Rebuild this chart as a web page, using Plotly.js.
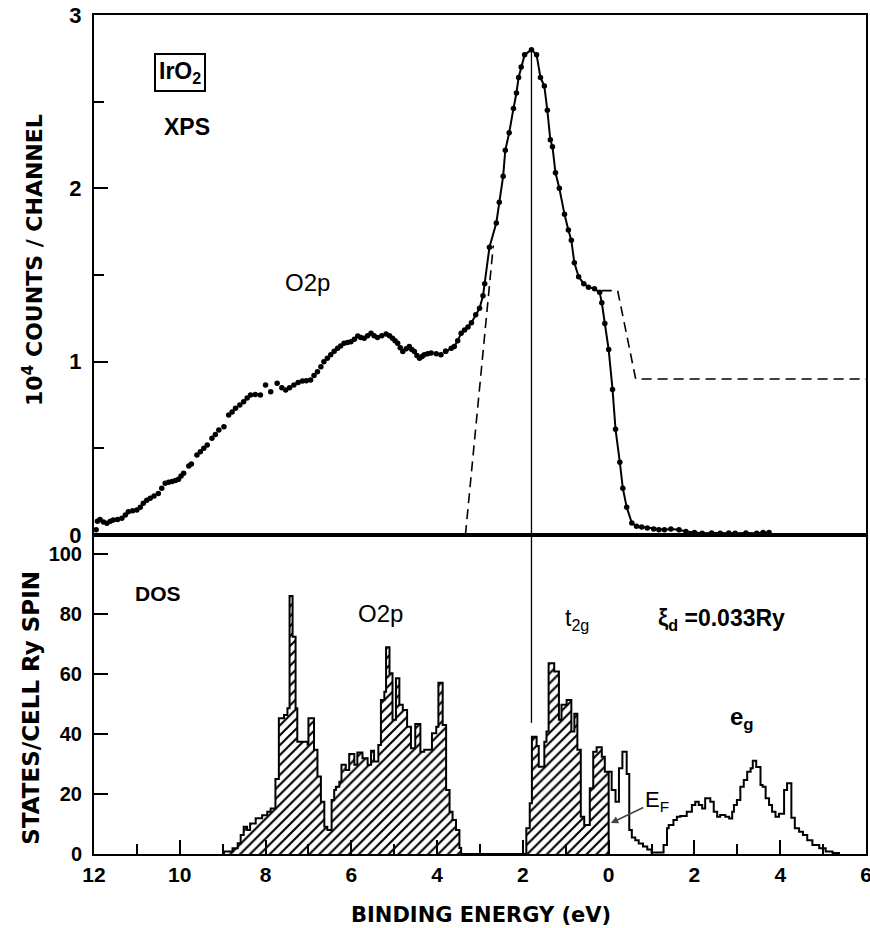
<!DOCTYPE html>
<html>
<head>
<meta charset="utf-8">
<script src="https://cdn.plot.ly/plotly-3.0.1.min.js"></script>
<style>html,body{margin:0;padding:0;background:#fff;}#chart{width:870px;height:928px;}</style>
</head>
<body>
<div id="chart"></div>
<script>
// ---------- XPS (upper panel) : binding energy (eV) vs 10^4 counts/channel ----------
const xpsDotE = [11.95,11.92,11.86,11.78,11.70,11.62,11.55,11.45,11.35,11.27,11.20,11.10,11.00,10.92,10.85,10.77,10.69,10.60,10.50,10.42,10.34,10.26,10.18,10.10,10.03,9.97,9.91,9.79,9.73,9.60,9.52,9.44,9.36,9.25,9.17,9.09,8.97,8.86,8.78,8.70,8.60,8.51,8.43,8.35,8.24,8.12,8.00,7.88,7.73,7.62,7.53,7.44,7.34,7.24,7.14,7.05,6.95,6.87,6.79,6.71,6.64,6.56,6.48,6.40,6.32,6.25,6.17,6.09,6.01,5.93,5.85,5.78,5.70,5.62,5.54,5.47,5.39,5.29,5.19,5.11,5.04,4.98,4.92,4.86,4.80,4.72,4.65,4.59,4.53,4.47,4.41,4.35,4.30,4.22,4.14,4.02,3.91,3.80];
const xpsDotC = [0.03,0.08,0.09,0.075,0.068,0.08,0.087,0.09,0.096,0.115,0.134,0.14,0.144,0.16,0.183,0.20,0.212,0.225,0.24,0.27,0.298,0.305,0.308,0.315,0.321,0.34,0.356,0.398,0.41,0.462,0.481,0.50,0.519,0.558,0.58,0.606,0.625,0.692,0.71,0.731,0.75,0.769,0.79,0.808,0.81,0.808,0.866,0.827,0.875,0.85,0.837,0.85,0.866,0.88,0.889,0.89,0.894,0.92,0.942,0.97,1.0,1.02,1.04,1.06,1.077,1.09,1.106,1.11,1.115,1.13,1.148,1.14,1.135,1.15,1.164,1.15,1.14,1.15,1.16,1.15,1.135,1.12,1.106,1.08,1.058,1.075,1.087,1.07,1.058,1.035,1.02,1.03,1.04,1.045,1.05,1.045,1.04,1.06];
const xpsCurveE = [3.80,3.67,3.60,3.52,3.44,3.36,3.28,3.20,3.10,3.01,2.93,2.89,2.78,2.62,2.55,2.46,2.41,2.32,2.22,2.15,2.10,2.04,1.96,1.80,1.68,1.59,1.50,1.43,1.36,1.31,1.24,1.15,1.03,0.94,0.87,0.80,0.70,0.58,0.47,0.33,0.21,0.16,0.09,0.00,-0.09,-0.16,-0.26,-0.33,-0.42,-0.54,-0.65,-0.77,-0.90,-1.05,-1.17,-1.30,-1.45,-1.64,-1.80,-2.00,-2.18,-2.40,-2.60,-2.80,-2.95,-3.20,-3.45,-3.60,-3.74];
const xpsCurveC = [1.06,1.077,1.087,1.12,1.164,1.183,1.20,1.225,1.27,1.308,1.38,1.45,1.66,1.80,1.92,2.07,2.22,2.32,2.46,2.55,2.64,2.70,2.77,2.80,2.77,2.64,2.59,2.45,2.28,2.24,2.09,2.00,1.85,1.76,1.70,1.57,1.49,1.45,1.43,1.42,1.40,1.34,1.22,1.07,0.84,0.61,0.42,0.27,0.16,0.07,0.05,0.046,0.04,0.035,0.03,0.03,0.035,0.03,0.02,0.015,0.01,0.012,0.01,0.012,0.01,0.012,0.01,0.015,0.015];
// dashed theoretical (broadened) curve pieces
const dashLeftE = [3.34, 2.69];
const dashLeftC = [0, 1.67];
const dashRightE = [0.16, -0.21, -0.63, -6];
const dashRightC = [1.41, 1.41, 0.90, 0.90];
// vertical marker at the t2g peak
const peakE = [1.8, 1.8];
const peakUpperC = [0, 2.79];
const peakLowerD = [43.7, 106.3];

// ---------- DOS (lower panel) : histogram, left bin edges (eV, descending) and heights ----------
const dosOccE = [8.97,8.77,8.65,8.58,8.51,8.43,8.36,8.23,8.08,7.96,7.88,7.77,7.69,7.57,7.49,7.44,7.37,7.30,7.26,7.02,7.00,6.87,6.79,6.71,6.63,6.56,6.46,6.40,6.36,6.28,6.23,6.13,6.05,5.93,5.86,5.74,5.62,5.54,5.47,5.37,5.31,5.23,5.19,5.11,5.04,4.96,4.88,4.80,4.70,4.61,4.51,4.39,4.30,4.12,4.02,3.97,3.87,3.79,3.71,3.64,3.56,3.48,3.44,1.92,1.84,1.79,1.68,1.63,1.50,1.45,1.40,1.27,1.16,1.10,0.98,0.87,0.80,0.73,0.65,0.57,0.44,0.36,0.28,0.16,0.09];
const dosOccD = [0.8,1.9,3.6,6.3,9.1,8.0,10.2,11.9,12.9,14.1,15.2,25.0,45.2,46.3,48.6,86.0,72.4,48.6,37.4,36.5,45.2,34.7,25.8,17.4,9.1,8.0,18.0,21.3,22.4,24.1,29.7,28.0,33.3,29.7,33.8,31.9,29.7,34.4,30.8,36.3,51.3,54.1,68.9,60.2,44.7,58.6,49.7,48.0,42.4,35.2,43.3,34.1,34.7,40.2,42.4,57.1,43.0,21.3,14.1,11.3,8.0,2.0,0,8.6,16.9,39.1,36.0,29.1,37.4,40.8,63.6,60.8,44.7,49.7,51.3,40.8,46.7,34.7,12.4,9.7,21.9,34.1,35.6,32.4,27.4];
const dosOccEnd = 0;
const dosUnoccE = [0.00,-0.07,-0.16,-0.24,-0.32,-0.42,-0.48,-0.54,-0.62,-0.70,-0.80,-0.90,-1.00,-1.28,-1.36,-1.40,-1.51,-1.59,-1.67,-1.82,-1.94,-2.02,-2.10,-2.18,-2.25,-2.37,-2.45,-2.53,-2.60,-2.72,-2.81,-2.88,-2.92,-2.99,-3.07,-3.15,-3.23,-3.31,-3.36,-3.44,-3.54,-3.59,-3.66,-3.74,-3.81,-3.89,-3.97,-4.09,-4.16,-4.26,-4.34,-4.44,-4.53,-4.63,-4.75,-4.91,-5.06,-5.22];
const dosUnoccD = [27.4,21.3,17.4,28.6,34.1,26.7,8.0,5.5,4.6,3.5,2.5,1.5,0.5,3.0,8.6,9.7,11.3,12.4,12.7,14.1,16.3,17.4,16.3,15.2,18.6,17.4,14.1,12.4,13.0,12.4,11.8,14.1,16.3,18.0,22.4,24.7,27.4,28.6,31.1,29.0,23.0,22.4,18.6,16.3,14.1,12.4,13.4,21.3,23.6,12.1,8.6,7.4,6.3,4.6,3.0,1.9,0.8,0.3];
const dosUnoccEnd = -5.37;

// ---------- axis ticks ----------
const xTickVals = [12,10,8,6,4,2,0,-2,-4,-6];
const xTickText = ['12','10','8','6','4','2','0','2','4','6'];
const yUpperTicks = [0,1,2,3];
const yLowerTicks = [0,20,40,60,80,100];

const FONT = 'Liberation Sans, Arial, sans-serif';
const WIDE = 'DejaVu Sans, Verdana, sans-serif';

function stepX(edges, end){ return [edges[0]].concat(edges, [end]); }
function stepY(vals){ return [0].concat(vals, [0]); }

const traces = [
  {x: xpsDotE, y: xpsDotC, xaxis:'x2', yaxis:'y2', mode:'markers', type:'scatter',
   marker:{size:5.5, color:'black'}, cliponaxis:false, hoverinfo:'skip'},
  {x: xpsCurveE, y: xpsCurveC, xaxis:'x2', yaxis:'y2', mode:'lines+markers', type:'scatter',
   line:{color:'black', width:2}, marker:{size:5.5, color:'black'}, cliponaxis:false},
  {x: dashLeftE, y: dashLeftC, xaxis:'x2', yaxis:'y2', mode:'lines', type:'scatter',
   line:{color:'black', width:1.6, dash:'10px,6px'}},
  {x: dashRightE, y: dashRightC, xaxis:'x2', yaxis:'y2', mode:'lines', type:'scatter',
   line:{color:'black', width:1.6, dash:'10px,6px'}},
  {x: peakE, y: peakUpperC, xaxis:'x2', yaxis:'y2', mode:'lines', type:'scatter',
   line:{color:'black', width:1.3}},
  {x: peakE, y: peakLowerD, xaxis:'x', yaxis:'y', mode:'lines', type:'scatter',
   line:{color:'black', width:1.3}, cliponaxis:false},
  {x: stepX(dosOccE, dosOccEnd), y: stepY(dosOccD), xaxis:'x', yaxis:'y', mode:'lines', type:'scatter',
   line:{color:'black', width:2, shape:'hv'}, fill:'tozeroy', fillcolor:'white',
   fillpattern:{shape:'/', fgcolor:'black', bgcolor:'white', size:7, solidity:0.3}},
  {x: dosUnoccE.concat([dosUnoccEnd]), y: dosUnoccD.concat([0]), xaxis:'x', yaxis:'y', mode:'lines', type:'scatter',
   line:{color:'black', width:2, shape:'hv'}}
];

const axBase = {showgrid:false, zeroline:false, showline:true, linecolor:'black', linewidth:2, mirror:true,
  tickcolor:'black', tickwidth:2, ticks:'inside'};

function note(xref, yref, x, y, text, size, bold, fam, extra){
  return Object.assign({xref:xref, yref:yref, x:x, y:y, text:text, showarrow:false,
    xanchor:'center', yanchor:'middle',
    font:{family:fam || FONT, size:size, weight: bold ? 'bold' : 'normal', color:'black'}}, extra || {});
}

const layout = {
  width:870, height:928, showlegend:false,
  paper_bgcolor:'white', plot_bgcolor:'white',
  margin:{l:94, r:4, t:15, b:74},
  font:{family:FONT, color:'black'},
  xaxis: Object.assign({}, axBase, {anchor:'y', domain:[0,1], range:[12,-6], tickmode:'array',
    tickvals:xTickVals, ticktext:xTickText, ticklen:14, ticklabelstandoff:1, ticklabeloverflow:'allow',
    tickfont:{family:FONT, size:21, weight:'bold'},
    minor:{tickmode:'linear', tick0:0, dtick:1, ticks:'inside', ticklen:10, tickwidth:2, tickcolor:'black'}}),
  xaxis2: Object.assign({}, axBase, {anchor:'y2', matches:'x', range:[12,-6], ticks:'', showticklabels:false}),
  yaxis: Object.assign({}, axBase, {anchor:'x', domain:[0,0.3802], range:[0,106.3], tickmode:'array',
    tickvals:yLowerTicks, ticklen:14, ticklabelstandoff:6,
    tickfont:{family:FONT, size:20, weight:'bold'}}),
  yaxis2: Object.assign({}, axBase, {anchor:'x2', domain:[0.3802,1], range:[0,3], tickmode:'array',
    tickvals:yUpperTicks, ticklen:14, ticklabelstandoff:6,
    tickfont:{family:FONT, size:22, weight:'bold'},
    minor:{tickmode:'linear', tick0:0, dtick:0.5, ticks:'inside', ticklen:10, tickwidth:2, tickcolor:'black'}}),
  annotations: [
    note('x2','y2', 9.99, 2.67, 'IrO<sub>2</sub>', 23, true, FONT, {bordercolor:'black', borderwidth:2, borderpad:3}),
    note('x2','y2', 9.84, 2.354, 'XPS', 23, true),
    note('x2','y2', 7.02, 1.454, 'O2p', 24, false),
    note('x','y', 10.5, 86.7, 'DOS', 21, true),
    note('x','y', 5.31, 80.3, 'O2p', 24, false),
    note('x','y', 0.75, 78, 't<sub>2g</sub>', 23, false),
    note('x','y', -2.64, 78, 'ξ<sub>d</sub> =0.033Ry', 23, true),
    note('x','y', -3.11, 45.3, 'e<sub>g</sub>', 24, true),
    Object.assign(note('x','y', -0.05, 10.3, 'E<sub>F</sub>', 22, false),
      {showarrow:true, arrowhead:2, arrowsize:1, arrowwidth:1.5, ax:46, ay:-22, xanchor:'auto', yanchor:'auto'}),
    note('paper','paper', -0.079, 0.708, '10<sup>4</sup> COUNTS / CHANNEL', 22, true, WIDE, {textangle:-90}),
    note('paper','paper', -0.081, 0.175, 'STATES/CELL Ry SPIN', 23, true, WIDE, {textangle:-90}),
    note('paper','paper', 0.501, -0.0727, 'BINDING ENERGY (eV)', 21, true, WIDE)
  ]
};

Plotly.newPlot('chart', traces, layout, {staticPlot:true, displayModeBar:false});
</script>
</body>
</html>
